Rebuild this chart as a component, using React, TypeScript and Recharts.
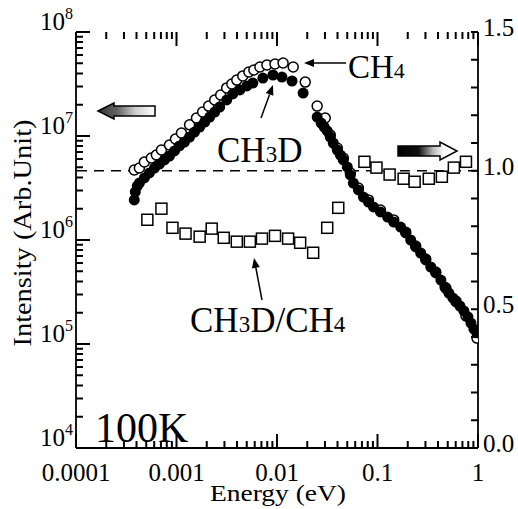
import React from 'react'
import { ComposedChart, Scatter, XAxis, YAxis, ReferenceLine } from 'recharts'

// CH3D intensity (filled circles), energy in eV
const ch3dEnergy = [
  3.8e-4, 3.89e-4, 4.07e-4, 4.27e-4, 4.79e-4, 5.37e-4, 6.03e-4, 6.76e-4, 7.59e-4, 8.51e-4,
  9.55e-4, 1.07e-3, 1.2e-3, 1.35e-3, 1.51e-3, 1.7e-3, 1.91e-3, 2.14e-3, 2.4e-3, 2.69e-3,
  3.16e-3, 3.63e-3, 4.27e-3, 5.01e-3, 5.75e-3, 7.24e-3, 9.12e-3, 1.12e-2, 1.41e-2, 1.82e-2,
  2.51e-2, 2.75e-2, 2.95e-2, 3.16e-2, 3.39e-2, 3.63e-2, 3.98e-2, 4.27e-2, 4.57e-2, 5.01e-2,
  5.37e-2, 5.75e-2, 6.46e-2, 7.24e-2, 8.13e-2, 9.12e-2, 0.107, 0.126, 0.145, 0.17,
  0.191, 0.214, 0.24, 0.269, 0.302, 0.339, 0.38, 0.427, 0.468, 0.513,
  0.562, 0.603, 0.661, 0.724, 0.794, 0.851, 0.912, 0.977,
]
const ch3dIntensity = [
  2.43e6, 2.9e6, 3.3e6, 3.53e6, 3.95e6, 4.41e6, 4.92e6, 5.38e6, 5.88e6, 6.42e6,
  7.18e6, 8.02e6, 8.75e6, 9.78e6, 1.09e7, 1.22e7, 1.36e7, 1.52e7, 1.7e7, 1.9e7,
  2.22e7, 2.54e7, 2.77e7, 3.03e7, 3.23e7, 3.61e7, 3.86e7, 3.69e7, 3.38e7, 2.59e7,
  1.52e7, 1.33e7, 1.22e7, 1.12e7, 9.78e6, 8.56e6, 7.33e6, 6.56e6, 5.88e6, 5.03e6,
  4.22e6, 3.53e6, 3.03e6, 2.59e6, 2.32e6, 2.08e6, 1.86e6, 1.66e6, 1.49e6, 1.33e6,
  1.17e6, 1.0e6, 8.57e5, 7.5e5, 6.43e5, 5.5e5, 4.82e5, 4.12e5, 3.53e5, 3.09e5,
  2.77e5, 2.54e5, 2.32e5, 2.08e5, 1.82e5, 1.59e5, 1.39e5, 1.28e5,
]

// CH4 intensity (open circles)
const ch4Energy = [
  3.8e-4, 4.27e-4, 4.79e-4, 5.62e-4, 6.31e-4, 7.08e-4, 8.51e-4, 9.77e-4, 1.12e-3, 1.35e-3,
  1.58e-3, 1.82e-3, 2.09e-3, 2.4e-3, 2.75e-3, 3.16e-3, 3.55e-3, 3.98e-3, 4.57e-3, 5.25e-3,
  5.89e-3, 6.76e-3, 7.94e-3, 9.55e-3, 1.15e-2, 1.45e-2, 1.91e-2, 2.51e-2, 3.02e-2, 3.39e-2,
  3.98e-2, 4.57e-2, 5.37e-2, 6.46e-2, 8.13e-2, 0.107, 0.145, 0.191, 0.24, 0.302,
  0.38, 0.479, 0.603, 0.759, 0.977,
]
const ch4Intensity = [
  4.71e6, 4.92e6, 5.62e6, 6.14e6, 6.56e6, 7.33e6, 8.19e6, 9.35e6, 1.07e7, 1.28e7,
  1.49e7, 1.7e7, 1.94e7, 2.22e7, 2.48e7, 2.9e7, 3.16e7, 3.45e7, 3.78e7, 4.12e7,
  4.31e7, 4.61e7, 4.82e7, 4.92e7, 5.03e7, 4.61e7, 3.3e7, 1.94e7, 1.49e7, 1.02e7,
  7.67e6, 6.14e6, 4.41e6, 3.16e6, 2.43e6, 1.94e6, 1.56e6, 1.19e6, 8.75e5, 6.56e5,
  4.92e5, 3.45e5, 2.59e5, 1.86e5, 1.14e5,
]

// CH3D/CH4 ratio (open squares, right axis)
const ratioEnergy = [
  5.13e-4, 7.08e-4, 9.12e-4, 1.23e-3, 1.7e-3, 2.24e-3, 2.95e-3, 3.98e-3, 5.37e-3, 7.08e-3,
  9.55e-3, 1.29e-2, 1.7e-2, 2.29e-2, 3.16e-2, 4.07e-2, 7.41e-2, 9.77e-2, 0.132, 0.182,
  0.234, 0.324, 0.437, 0.575, 0.759,
]
const ratioValue = [
  0.823, 0.863, 0.794, 0.773, 0.762, 0.791, 0.758, 0.744, 0.744, 0.755,
  0.765, 0.755, 0.74, 0.704, 0.794, 0.866, 1.032, 1.011, 0.986, 0.971,
  0.96, 0.971, 0.978, 1.011, 1.032,
]

const xMajorTicks = [0.0001, 0.001, 0.01, 0.1, 1]
const xTickLabels = ['0.0001', '0.001', '0.01', '0.1', '1']
const yMajorTicks = [1e4, 1e5, 1e6, 1e7, 1e8]
const yTickExponents = ['4', '5', '6', '7', '8']
const minorMultipliers = [2, 3, 4, 5, 6, 7, 8, 9]
const ratioMajorTicks = [0, 0.5, 1.0, 1.5]
const ratioTickLabels = ['0.0', '0.5', '1.0', '1.5']
const ratioMinorCount = 15 // 0.1 steps

const FONT = '"Liberation Serif", "Times New Roman", serif'
const MAJOR_LEN = 14
const MINOR_LEN = 7

// chart frame (must agree with the chart margin and axis sizes below)
const W = 518
const H = 509
const LEFT_W = 76
const RIGHT_W = 40
const TOP = 32
const BOTTOM_H = 61
const PLOT_L = LEFT_W
const PLOT_R = W - RIGHT_W
const PLOT_T = TOP
const PLOT_B = H - BOTTOM_H

const withMinors = (majors: number[]) => {
  const out: number[] = []
  majors.forEach((m, i) => {
    out.push(m)
    if (i < majors.length - 1) minorMultipliers.forEach((k) => out.push(m * k))
  })
  return out
}
const xTicks = withMinors(xMajorTicks)
const yTicks = withMinors(yMajorTicks)
const ratioTicks = Array.from({ length: ratioMinorCount + 1 }, (_, i) => i / 10)

const majorIndex = (list: number[], v: number) =>
  list.findIndex((t) => Math.abs(t - v) <= Math.abs(t) * 1e-6 + 1e-9)

const zip = (xs: number[], ys: number[]) => xs.map((x, i) => ({ x, y: ys[i] }))
const ch3dData = zip(ch3dEnergy, ch3dIntensity)
const ch4Data = zip(ch4Energy, ch4Intensity)
const ratioData = zip(ratioEnergy, ratioValue)

const xMin = xMajorTicks[0]
const xMax = xMajorTicks[xMajorTicks.length - 1]
const yMin = yMajorTicks[0]
const yMax = yMajorTicks[yMajorTicks.length - 1]
const rMax = ratioMajorTicks[ratioMajorTicks.length - 1]

// same log/linear mapping as the axes, used only for the inward tick marks on the frame
const lg = Math.log10
const xPx = (v: number) => PLOT_L + ((lg(v) - lg(xMin)) / (lg(xMax) - lg(xMin))) * (PLOT_R - PLOT_L)
const yPx = (v: number) => PLOT_B - ((lg(v) - lg(yMin)) / (lg(yMax) - lg(yMin))) * (PLOT_B - PLOT_T)
const rPx = (v: number) => PLOT_B - (v / rMax) * (PLOT_B - PLOT_T)

// tick labels
const BottomLabel = (p: any) => {
  const idx = majorIndex(xMajorTicks, p.payload.value)
  if (idx < 0) return <g />
  return (
    <text x={p.x} y={p.y + 33} textAnchor="middle" fontSize={25} fontFamily={FONT} fill="#000">
      {xTickLabels[idx]}
    </text>
  )
}

const LeftLabel = (p: any) => {
  const idx = majorIndex(yMajorTicks, p.payload.value)
  if (idx < 0) return <g />
  return (
    <text x={p.x - 3} y={p.y - 2} textAnchor="end" fontSize={25} fontFamily={FONT} fill="#000">
      10
      <tspan fontSize={16} dy={-11}>
        {yTickExponents[idx]}
      </tspan>
    </text>
  )
}

const RightLabel = (p: any) => {
  const idx = majorIndex(ratioMajorTicks, p.payload.value)
  if (idx < 0) return <g />
  return (
    <text x={p.x + 5} y={p.y + 4} fontSize={25} fontFamily={FONT} fill="#000">
      {ratioTickLabels[idx]}
    </text>
  )
}

const FilledDot = (p: any) => <circle cx={p.cx} cy={p.cy} r={5.5} fill="#000" />
const OpenDot = (p: any) => (
  <circle cx={p.cx} cy={p.cy} r={5} fill="#fff" stroke="#000" strokeWidth={1.5} />
)
const OpenSquare = (p: any) => (
  <rect x={p.cx - 5.5} y={p.cy - 5.5} width={11} height={11} fill="#fff" stroke="#000" strokeWidth={1.5} />
)

function FrameTicks() {
  const d: string[] = []
  xTicks.forEach((v) => {
    const len = majorIndex(xMajorTicks, v) >= 0 ? MAJOR_LEN : MINOR_LEN
    const x = xPx(v)
    d.push(`M${x},${PLOT_B}V${PLOT_B - len}`, `M${x},${PLOT_T}V${PLOT_T + len}`)
  })
  yTicks.forEach((v) => {
    const len = majorIndex(yMajorTicks, v) >= 0 ? MAJOR_LEN : MINOR_LEN
    const y = yPx(v)
    d.push(`M${PLOT_L},${y}H${PLOT_L + len}`)
  })
  ratioTicks.forEach((v) => {
    const y = rPx(v)
    d.push(`M${PLOT_R},${y}H${PLOT_R - MINOR_LEN}`)
  })
  return <path d={d.join('')} stroke="#000" strokeWidth={2} fill="none" />
}

function Pointer({ x1, y1, x2, y2 }: { x1: number; y1: number; x2: number; y2: number }) {
  const a = Math.atan2(y2 - y1, x2 - x1)
  const len = 10
  const w = 4
  const bx = x2 - len * Math.cos(a)
  const by = y2 - len * Math.sin(a)
  const nx = -Math.sin(a) * w
  const ny = Math.cos(a) * w
  return (
    <g>
      <line x1={x1} y1={y1} x2={bx} y2={by} stroke="#000" strokeWidth={1.5} />
      <polygon points={`${x2},${y2} ${bx + nx},${by + ny} ${bx - nx},${by - ny}`} fill="#000" />
    </g>
  )
}

function Annotations() {
  return (
    <svg
      width={W}
      height={H}
      style={{ position: 'absolute', left: 0, top: 0, pointerEvents: 'none' }}
      fontFamily={FONT}
    >
      <defs>
        <linearGradient id="leftArrowFill" x1="0" x2="1" y1="0" y2="0">
          <stop offset="0%" stopColor="#333" />
          <stop offset="35%" stopColor="#666" />
          <stop offset="65%" stopColor="#ccc" />
          <stop offset="100%" stopColor="#fff" />
        </linearGradient>
        <linearGradient id="rightArrowFill" x1="0" x2="1" y1="0" y2="0">
          <stop offset="0%" stopColor="#000" />
          <stop offset="35%" stopColor="#111" />
          <stop offset="60%" stopColor="#bbb" />
          <stop offset="78%" stopColor="#fff" />
          <stop offset="100%" stopColor="#fff" />
        </linearGradient>
      </defs>

      <FrameTicks />

      {/* axis titles */}
      <text
        x={31}
        y={233}
        transform="rotate(-90 31 233)"
        textAnchor="middle"
        fontSize={26}
        textLength={227}
        lengthAdjust="spacingAndGlyphs"
      >
        Intensity (Arb.Unit)
      </text>
      <text x={278} y={501} textAnchor="middle" fontSize={23} textLength={136} lengthAdjust="spacingAndGlyphs">
        Energy (eV)
      </text>

      {/* axis direction arrows */}
      <polygon
        points="98,111 114,103 114,106 155,106 155,116 114,116 114,119"
        fill="url(#leftArrowFill)"
        stroke="#000"
        strokeWidth={1.5}
      />
      <polygon
        points="398,146 440,146 440,142 457,151 440,160 440,156 398,156"
        fill="url(#rightArrowFill)"
        stroke="#000"
        strokeWidth={1.5}
      />

      {/* labels */}
      <text x={348} y={78} fontSize={33}>
        CH<tspan fontSize={22}>4</tspan>
      </text>
      <Pointer x1={346} y1={63} x2={304} y2={63} />

      <text x={217} y={162} fontSize={35}>
        CH<tspan fontSize={23}>3</tspan>D
      </text>
      <Pointer x1={261} y1={118} x2={273} y2={85} />

      <text x={190} y={332} fontSize={35}>
        CH<tspan fontSize={23}>3</tspan>D/CH<tspan fontSize={23}>4</tspan>
      </text>
      <Pointer x1={262} y1={300} x2={254} y2={258} />

      <text x={95} y={442} fontSize={42}>
        100K
      </text>
    </svg>
  )
}

const axisLine = { stroke: '#000', strokeWidth: 1.8 }

export default function App() {
  return (
    <div style={{ position: 'absolute', left: 0, top: 0, width: W, height: H, background: '#fff' }}>
      <ComposedChart width={W} height={H} margin={{ top: TOP, right: 0, bottom: 0, left: 0 }}>
        <XAxis
          xAxisId="bottom"
          dataKey="x"
          type="number"
          scale="log"
          domain={[xMin, xMax]}
          allowDataOverflow
          ticks={xTicks}
          interval={0}
          height={BOTTOM_H}
          tickSize={0}
          tickMargin={0}
          tickLine={false}
          axisLine={axisLine}
          tick={BottomLabel}
        />
        <XAxis
          xAxisId="top"
          orientation="top"
          dataKey="x"
          type="number"
          scale="log"
          domain={[xMin, xMax]}
          allowDataOverflow
          height={0}
          tick={false}
          tickLine={false}
          axisLine={axisLine}
        />
        <YAxis
          yAxisId="left"
          dataKey="y"
          type="number"
          scale="log"
          domain={[yMin, yMax]}
          allowDataOverflow
          ticks={yTicks}
          interval={0}
          width={LEFT_W}
          tickSize={0}
          tickMargin={0}
          tickLine={false}
          axisLine={axisLine}
          tick={LeftLabel}
        />
        <YAxis
          yAxisId="right"
          dataKey="y"
          orientation="right"
          type="number"
          domain={[0, rMax]}
          allowDataOverflow
          ticks={ratioTicks}
          interval={0}
          width={RIGHT_W}
          tickSize={0}
          tickMargin={0}
          tickLine={false}
          axisLine={axisLine}
          tick={RightLabel}
        />
        <ReferenceLine
          xAxisId="bottom"
          yAxisId="right"
          y={1}
          stroke="#000"
          strokeWidth={1.5}
          strokeDasharray="10 7"
        />
        <Scatter
          name="CH3D/CH4"
          data={ratioData}
          xAxisId="bottom"
          yAxisId="right"
          shape={OpenSquare}
          isAnimationActive={false}
        />
        <Scatter
          name="CH4"
          data={ch4Data}
          xAxisId="bottom"
          yAxisId="left"
          shape={OpenDot}
          isAnimationActive={false}
        />
        <Scatter
          name="CH3D"
          data={ch3dData}
          xAxisId="bottom"
          yAxisId="left"
          shape={FilledDot}
          isAnimationActive={false}
        />
      </ComposedChart>
      <Annotations />
    </div>
  )
}
